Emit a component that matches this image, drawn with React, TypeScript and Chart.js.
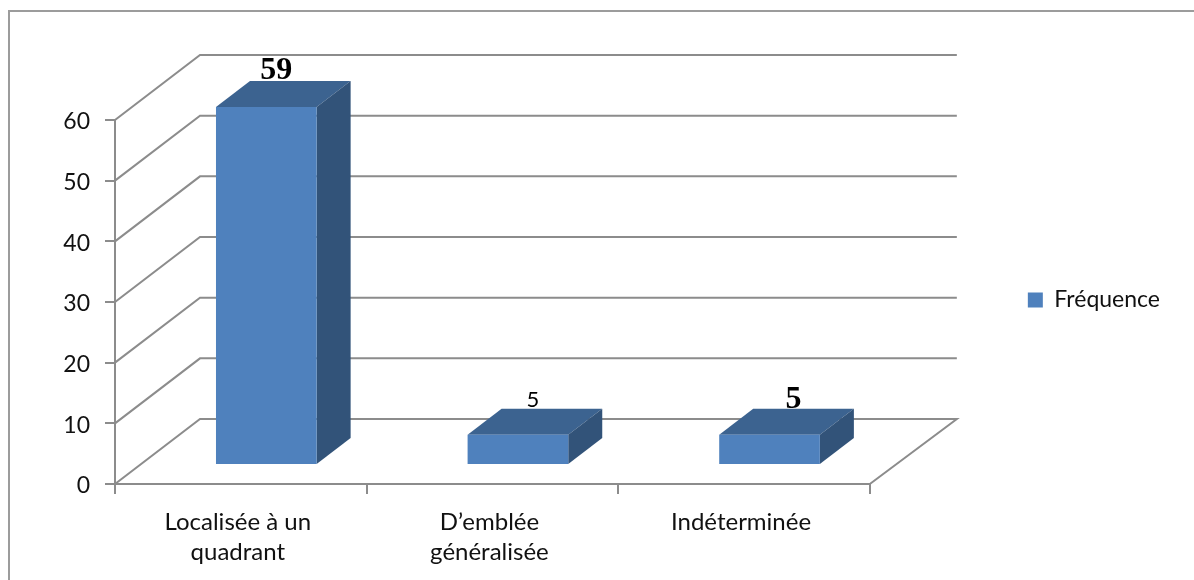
import React, { useEffect, useRef } from "react";
import { Chart, registerables } from "chart.js";

Chart.register(...registerables);

const categories = [["Localisée à un", "quadrant"], ["D’emblée", "généralisée"], "Indéterminée"];
const seriesName = "Fréquence";
const frequencies = [59, 5, 5];
const yTicks = [0, 10, 20, 30, 40, 50, 60];

const UI_FONT = "Lato, 'Noto Sans', sans-serif";
const SERIF_FONT = "'Liberation Serif', serif";
const TEXT = "#111111";
const GRID = "#8c8c8c";
const FRONT = "#4f81bd";
const TOP = "#3c6390";
const SIDE = "#325379";

// Offsets of the pseudo-3D box: wall depth, bar inset on the floor, bar depth.
const WALL = { dx: 85, dy: -65, rightDx: 87 };
const INSET = { dx: 25.5, dy: -19 };
const BAR_DEPTH = { dx: 34, dy: -26 };

// The three value labels carry different fonts, as in the source document.
const labelStyles = [
  { font: `bold 32px ${SERIF_FONT}`, shift: -7, lift: 2 },
  { font: `22px ${UI_FONT}`, shift: -2, lift: 2 },
  { font: `bold 32px ${SERIF_FONT}`, shift: 7, lift: 1 },
];

const box3d = {
  id: "box3d",
  beforeDraw(chart: any) {
    const { ctx, width, height } = chart;
    ctx.save();
    ctx.fillStyle = "#ffffff";
    ctx.fillRect(0, 0, width, height);
    ctx.strokeStyle = "#9c9c9c";
    ctx.lineWidth = 2;
    ctx.strokeRect(9, 11, width + 20, height + 20);
    ctx.restore();
  },
  beforeDatasetsDraw(chart: any) {
    const { ctx, chartArea, scales } = chart;
    const { left, right } = chartArea;
    ctx.save();
    ctx.strokeStyle = GRID;
    ctx.lineWidth = 2;
    ctx.lineJoin = "miter";
    // Side wall diagonals and back wall rules, one per value tick.
    yTicks.forEach((v) => {
      const py = scales.y.getPixelForValue(v);
      ctx.beginPath();
      ctx.moveTo(left, py);
      ctx.lineTo(left + WALL.dx, py + WALL.dy);
      ctx.lineTo(right + WALL.rightDx, py + WALL.dy);
      if (v === 0) ctx.lineTo(right, py);
      ctx.stroke();
    });

    // Top and side faces of each bar.
    const meta = chart.getDatasetMeta(0);
    meta.data.forEach((bar: any) => {
      const xr = bar.x + bar.width / 2 + INSET.dx;
      const xl = bar.x - bar.width / 2 + INSET.dx;
      const yt = bar.y + INSET.dy;
      const yb = bar.base + INSET.dy;
      ctx.fillStyle = TOP;
      ctx.beginPath();
      ctx.moveTo(xl, yt);
      ctx.lineTo(xl + BAR_DEPTH.dx, yt + BAR_DEPTH.dy);
      ctx.lineTo(xr + BAR_DEPTH.dx, yt + BAR_DEPTH.dy);
      ctx.lineTo(xr, yt);
      ctx.closePath();
      ctx.fill();
      ctx.fillStyle = SIDE;
      ctx.beginPath();
      ctx.moveTo(xr, yt);
      ctx.lineTo(xr + BAR_DEPTH.dx, yt + BAR_DEPTH.dy);
      ctx.lineTo(xr + BAR_DEPTH.dx, yb + BAR_DEPTH.dy);
      ctx.lineTo(xr, yb);
      ctx.closePath();
      ctx.fill();
    });
    ctx.restore();

    // Front faces are drawn by the library, moved onto the floor.
    ctx.save();
    ctx.translate(INSET.dx, INSET.dy);
  },
  afterDatasetsDraw(chart: any) {
    const { ctx } = chart;
    ctx.restore();
    ctx.save();
    ctx.fillStyle = "#000000";
    ctx.textAlign = "center";
    ctx.textBaseline = "alphabetic";
    chart.getDatasetMeta(0).data.forEach((bar: any, i: number) => {
      const style = labelStyles[i];
      ctx.font = style.font;
      const cx = bar.x + INSET.dx + BAR_DEPTH.dx / 2 + style.shift;
      const cy = bar.y + INSET.dy + BAR_DEPTH.dy - style.lift;
      ctx.fillText(String(frequencies[i]), cx, cy);
    });
    ctx.restore();
  },
};

export default function App() {
  const ref = useRef<HTMLCanvasElement>(null);
  useEffect(() => {
    const hiddenAxis = (size: number, horizontal: boolean) => ({
      display: true,
      ticks: { display: false },
      grid: { display: false },
      border: { display: false },
      afterFit(scale: any) {
        if (horizontal) scale.height = size;
        else scale.width = size;
      },
    });
    const chart = new Chart(ref.current as HTMLCanvasElement, {
      type: "bar",
      data: {
        labels: categories as any,
        datasets: [
          {
            label: seriesName,
            data: frequencies,
            backgroundColor: FRONT,
            borderWidth: 0,
            barPercentage: 0.4,
            categoryPercentage: 1,
            xAxisID: "x",
            yAxisID: "y",
          },
        ],
      },
      options: {
        responsive: false,
        animation: false,
        layout: { padding: { top: 20, bottom: 0, left: 0, right: 24 } },
        plugins: {
          tooltip: { enabled: false },
          legend: {
            position: "right",
            labels: {
              boxWidth: 15,
              boxHeight: 15,
              color: TEXT,
              font: { family: UI_FONT, size: 23 },
            },
          },
        },
        scales: {
          x: {
            position: "bottom",
            grid: { display: true, drawOnChartArea: false, drawTicks: true, offset: true, tickLength: 10, color: GRID, lineWidth: 2 },
            border: { display: true, color: GRID, width: 2 },
            ticks: {
              color: TEXT,
              font: { family: UI_FONT, size: 24, lineHeight: 1.25 },
              padding: 13,
              labelOffset: -3,
              maxRotation: 0,
              autoSkip: false,
            },
            afterFit(scale: any) {
              scale.height = 96;
            },
          },
          y: {
            position: "left",
            min: 0,
            max: 60,
            grid: { display: true, drawOnChartArea: false, drawTicks: true, tickLength: 10, color: GRID, lineWidth: 2 },
            border: { display: true, color: GRID, width: 2 },
            ticks: {
              color: TEXT,
              stepSize: 10,
              padding: 15,
              labelOffset: 2,
              font: { family: UI_FONT, size: 23 },
            },
            afterFit(scale: any) {
              scale.width = 115;
            },
          },
          topSpacer: { type: "linear", axis: "x", position: "top", ...hiddenAxis(100, true) },
          rightSpacer: { type: "linear", axis: "y", position: "right", ...hiddenAxis(148, false) },
        } as any,
      },
      plugins: [box3d],
    });
    return () => chart.destroy();
  }, []);
  return (
    <canvas
      ref={ref}
      width={1194}
      height={580}
      style={{ position: "fixed", left: 0, top: 0, display: "block" }}
    />
  );
}
